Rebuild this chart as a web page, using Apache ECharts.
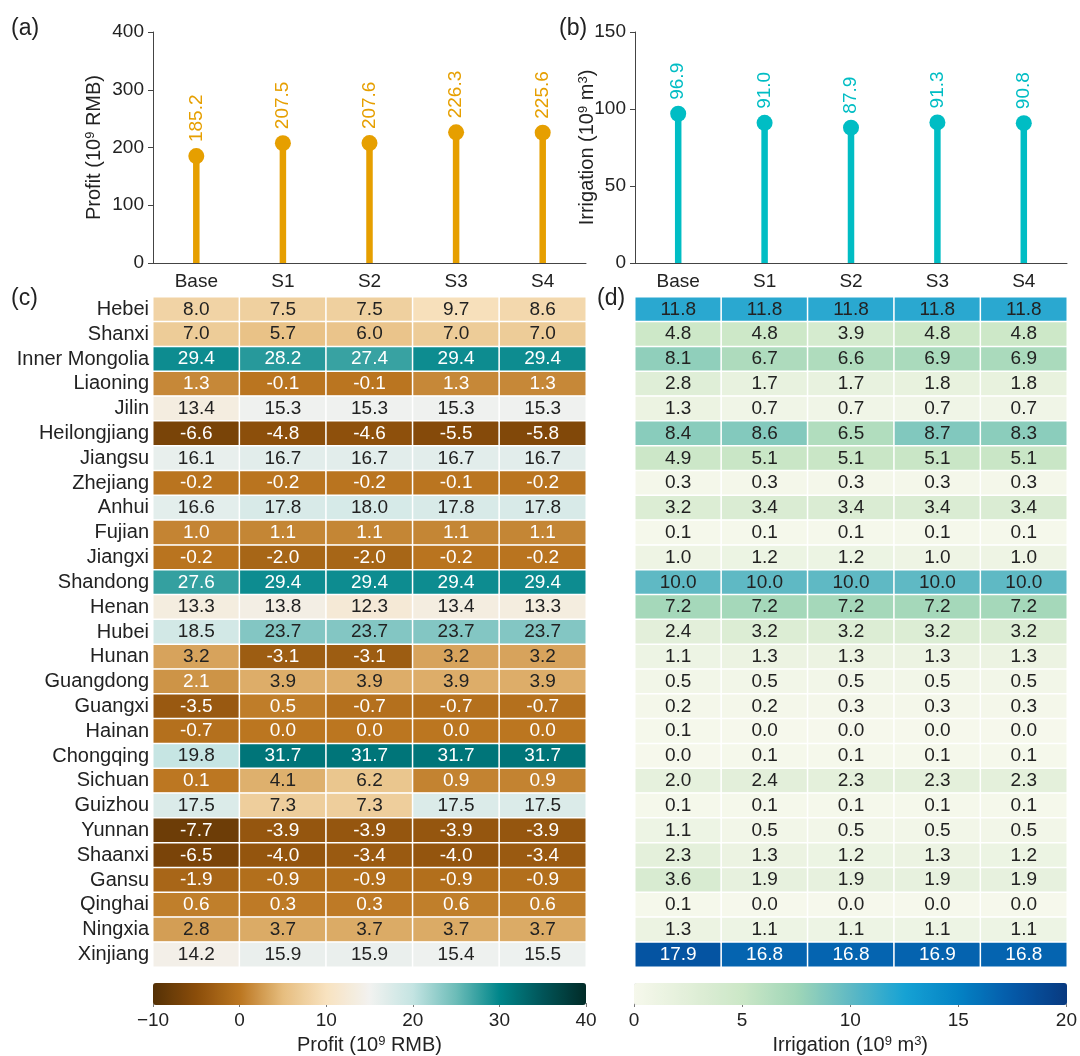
<!DOCTYPE html>
<html>
<head>
<meta charset="utf-8">
<title>Profit and irrigation by scenario</title>
<script src="https://cdn.jsdelivr.net/npm/echarts@6/dist/echarts.min.js"></script>
<style>
  html, body { margin: 0; padding: 0; background: #ffffff; }
  #chart { width: 1080px; height: 1056px; }
</style>
</head>
<body>
<div id="chart"></div>
<script>
// Scenarios and provinces
const scenarios = ['Base', 'S1', 'S2', 'S3', 'S4'];
const provinces = ['Hebei', 'Shanxi', 'Inner Mongolia', 'Liaoning', 'Jilin', 'Heilongjiang',
  'Jiangsu', 'Zhejiang', 'Anhui', 'Fujian', 'Jiangxi', 'Shandong', 'Henan', 'Hubei', 'Hunan',
  'Guangdong', 'Guangxi', 'Hainan', 'Chongqing', 'Sichuan', 'Guizhou', 'Yunnan', 'Shaanxi',
  'Gansu', 'Qinghai', 'Ningxia', 'Xinjiang'];

// National totals (10^9 RMB, 10^9 m3)
const totalProfit = [185.2, 207.5, 207.6, 226.3, 225.6];
const totalIrrigation = [96.9, 91.0, 87.9, 91.3, 90.8];

// Provincial profit (10^9 RMB), one array per scenario, in province order
const profitBase = [8.0, 7.0, 29.4, 1.3, 13.4, -6.6, 16.1, -0.2, 16.6, 1.0, -0.2, 27.6, 13.3, 18.5, 3.2, 2.1, -3.5, -0.7, 19.8, 0.1, 17.5, -7.7, -6.5, -1.9, 0.6, 2.8, 14.2];
const profitS1 = [7.5, 5.7, 28.2, -0.1, 15.3, -4.8, 16.7, -0.2, 17.8, 1.1, -2.0, 29.4, 13.8, 23.7, -3.1, 3.9, 0.5, 0.0, 31.7, 4.1, 7.3, -3.9, -4.0, -0.9, 0.3, 3.7, 15.9];
const profitS2 = [7.5, 6.0, 27.4, -0.1, 15.3, -4.6, 16.7, -0.2, 18.0, 1.1, -2.0, 29.4, 12.3, 23.7, -3.1, 3.9, -0.7, 0.0, 31.7, 6.2, 7.3, -3.9, -3.4, -0.9, 0.3, 3.7, 15.9];
const profitS3 = [9.7, 7.0, 29.4, 1.3, 15.3, -5.5, 16.7, -0.1, 17.8, 1.1, -0.2, 29.4, 13.4, 23.7, 3.2, 3.9, -0.7, 0.0, 31.7, 0.9, 17.5, -3.9, -4.0, -0.9, 0.6, 3.7, 15.4];
const profitS4 = [8.6, 7.0, 29.4, 1.3, 15.3, -5.8, 16.7, -0.2, 17.8, 1.1, -0.2, 29.4, 13.3, 23.7, 3.2, 3.9, -0.7, 0.0, 31.7, 0.9, 17.5, -3.9, -3.4, -0.9, 0.6, 3.7, 15.5];

// Provincial irrigation (10^9 m3), one array per scenario, in province order
const irrigationBase = [11.8, 4.8, 8.1, 2.8, 1.3, 8.4, 4.9, 0.3, 3.2, 0.1, 1.0, 10.0, 7.2, 2.4, 1.1, 0.5, 0.2, 0.1, 0.0, 2.0, 0.1, 1.1, 2.3, 3.6, 0.1, 1.3, 17.9];
const irrigationS1 = [11.8, 4.8, 6.7, 1.7, 0.7, 8.6, 5.1, 0.3, 3.4, 0.1, 1.2, 10.0, 7.2, 3.2, 1.3, 0.5, 0.2, 0.0, 0.1, 2.4, 0.1, 0.5, 1.3, 1.9, 0.0, 1.1, 16.8];
const irrigationS2 = [11.8, 3.9, 6.6, 1.7, 0.7, 6.5, 5.1, 0.3, 3.4, 0.1, 1.2, 10.0, 7.2, 3.2, 1.3, 0.5, 0.3, 0.0, 0.1, 2.3, 0.1, 0.5, 1.2, 1.9, 0.0, 1.1, 16.8];
const irrigationS3 = [11.8, 4.8, 6.9, 1.8, 0.7, 8.7, 5.1, 0.3, 3.4, 0.1, 1.0, 10.0, 7.2, 3.2, 1.3, 0.5, 0.3, 0.0, 0.1, 2.3, 0.1, 0.5, 1.3, 1.9, 0.0, 1.1, 16.9];
const irrigationS4 = [11.8, 4.8, 6.9, 1.8, 0.7, 8.3, 5.1, 0.3, 3.4, 0.1, 1.0, 10.0, 7.2, 3.2, 1.3, 0.5, 0.3, 0.0, 0.1, 2.3, 0.1, 0.5, 1.2, 1.9, 0.0, 1.1, 16.8];

// Colour-scale ticks
const profitTicks = [-10, 0, 10, 20, 30, 40];
const irrigationTicks = [0, 5, 10, 15, 20];

// ---- styling ----
const FONT = "'Liberation Sans', Arial, Helvetica, sans-serif";
const INK = '#222222';
const AXIS = '#444444';
const ORANGE = '#E69F00';
const CYAN = '#00BDC4';

// Diverging brown–teal ramp for profit, sequential green–blue ramp for irrigation
const profitColors = ['#543005', '#8a4d0a', '#bb7620', '#e6bd7e', '#f8e2bf', '#f2f2f0',
  '#c4e4e2', '#6cbcb8', '#00868a', '#015458', '#012b27'];
const irrigationColors = ['#f6f8ec', '#e2efd9', '#cbe7c7', '#a0d6b8', '#5fb9c4',
  '#16a2d4', '#0482c4', '#0559a8', '#083a80'];

const profitColumns = [profitBase, profitS1, profitS2, profitS3, profitS4];
const irrigationColumns = [irrigationBase, irrigationS1, irrigationS2, irrigationS3, irrigationS4];

function cells(columns, lightText) {
  const out = [];
  columns.forEach((col, i) => {
    col.forEach((v, j) => {
      out.push({ value: [i, j, v], label: { color: lightText(v) ? '#ffffff' : INK } });
    });
  });
  return out;
}
const profitCells = cells(profitColumns, v => v < 2.5 || v > 25);
const irrigationCells = cells(irrigationColumns, v => v > 14);

const fmtMinus = v => (v < 0 ? '\u2212' + Math.abs(v) : String(v));
const supRich = { sup: { fontSize: 13, verticalAlign: 'top', lineHeight: 13, fontFamily: FONT, color: INK } };

function lollipopAxes(gridIndex, max, interval, name, nameGap) {
  return {
    x: {
      type: 'category', gridIndex, data: scenarios, boundaryGap: true,
      axisLine: { lineStyle: { color: AXIS, width: 1 } },
      axisTick: { alignWithLabel: true, length: 5, lineStyle: { color: AXIS } },
      axisLabel: { interval: 0, color: INK, fontSize: 19, fontFamily: FONT, margin: 9 }
    },
    y: {
      type: 'value', gridIndex, min: 0, max, interval,
      name, nameLocation: 'middle', nameGap, nameRotate: 90, nameMoveOverlap: false,
      nameTextStyle: { color: INK, fontSize: 20, fontFamily: FONT, rich: supRich },
      axisLine: { show: true, lineStyle: { color: AXIS, width: 1 } },
      axisTick: { show: true, length: 5, lineStyle: { color: AXIS } },
      axisLabel: { color: INK, fontSize: 19, fontFamily: FONT, margin: 9 },
      splitLine: { show: false }
    }
  };
}
const axA = lollipopAxes(0, 400, 100, 'Profit (10{sup|9} RMB)', 49);
const axB = lollipopAxes(1, 150, 50, 'Irrigation (10{sup|9} m{sup|3})', 38);

function heatAxes(gridIndex, showNames) {
  return {
    x: { type: 'category', gridIndex, data: scenarios, show: false },
    y: {
      type: 'category', gridIndex, data: provinces, inverse: true,
      axisLine: { show: false }, axisTick: { show: false },
      axisLabel: { show: showNames, interval: 0, color: INK, fontSize: 20, fontFamily: FONT, margin: 4 }
    }
  };
}
const axC = heatAxes(2, true);
const axD = heatAxes(3, false);

function barAxes(gridIndex, ticks, name, fmt) {
  return {
    x: {
      type: 'value', gridIndex, min: ticks[0], max: ticks[ticks.length - 1],
      interval: ticks[1] - ticks[0], position: 'bottom',
      name, nameLocation: 'middle', nameGap: 32,
      nameTextStyle: { color: INK, fontSize: 20, fontFamily: FONT, rich: supRich },
      axisLine: { show: false },
      axisTick: { show: true, length: 4, lineStyle: { color: '#777' } },
      axisLabel: { color: INK, fontSize: 19, fontFamily: FONT, margin: 8, formatter: fmt },
      splitLine: { show: false }
    },
    y: { type: 'value', gridIndex, show: false, min: 0, max: 1 }
  };
}
const axE = barAxes(4, profitTicks, 'Profit (10{sup|9} RMB)', fmtMinus);
const axF = barAxes(5, irrigationTicks, 'Irrigation (10{sup|9} m{sup|3})', v => String(v));

function valueLabel(color) {
  return {
    show: true, position: 'top', distance: 6, rotate: 90, align: 'left', verticalAlign: 'middle',
    color, fontSize: 19, fontFamily: FONT, formatter: p => p.value.toFixed(1)
  };
}

const option = {
  backgroundColor: '#ffffff',
  animation: false,
  textStyle: { fontFamily: FONT },
  grid: [
    { left: 153, top: 32, width: 433, height: 231 },
    { left: 635, top: 32, width: 432, height: 231 },
    { left: 153, top: 297, width: 433, height: 670 },
    { left: 635, top: 297, width: 432, height: 670 },
    { left: 153, top: 983, width: 433, height: 22 },
    { left: 634, top: 983, width: 433, height: 22 }
  ],
  xAxis: [axA.x, axB.x, axC.x, axD.x, axE.x, axF.x],
  yAxis: [axA.y, axB.y, axC.y, axD.y, axE.y, axF.y],
  visualMap: [
    {
      type: 'continuous', seriesIndex: 4, dimension: 2, min: -10, max: 40,
      orient: 'horizontal', left: 153, top: 983, itemWidth: 22, itemHeight: 433,
      padding: 0, calculable: false, hoverLink: false, text: null, showLabel: false,
      inRange: { color: profitColors }
    },
    {
      type: 'continuous', seriesIndex: 5, dimension: 2, min: 0, max: 20,
      orient: 'horizontal', left: 634, top: 983, itemWidth: 22, itemHeight: 433,
      padding: 0, calculable: false, hoverLink: false, text: null, showLabel: false,
      inRange: { color: irrigationColors }
    }
  ],
  graphic: [
    { type: 'text', left: 11, top: 17, style: { text: '(a)', fontSize: 23, fontFamily: FONT, fill: INK } },
    { type: 'text', left: 559, top: 17, style: { text: '(b)', fontSize: 23, fontFamily: FONT, fill: INK } },
    { type: 'text', left: 11, top: 287, style: { text: '(c)', fontSize: 23, fontFamily: FONT, fill: INK } },
    { type: 'text', left: 597, top: 287, style: { text: '(d)', fontSize: 23, fontFamily: FONT, fill: INK } }
  ],
  series: [
    { type: 'bar', xAxisIndex: 0, yAxisIndex: 0, data: totalProfit, barWidth: 6.5,
      itemStyle: { color: ORANGE }, z: 2, silent: true },
    { type: 'scatter', xAxisIndex: 0, yAxisIndex: 0, data: totalProfit, symbolSize: 16,
      itemStyle: { color: ORANGE, opacity: 1 }, z: 3, label: valueLabel(ORANGE), silent: true },
    { type: 'bar', xAxisIndex: 1, yAxisIndex: 1, data: totalIrrigation, barWidth: 6.5,
      itemStyle: { color: CYAN }, z: 2, silent: true },
    { type: 'scatter', xAxisIndex: 1, yAxisIndex: 1, data: totalIrrigation, symbolSize: 16,
      itemStyle: { color: CYAN, opacity: 1 }, z: 3, label: valueLabel(CYAN), silent: true },
    { type: 'heatmap', xAxisIndex: 2, yAxisIndex: 2, data: profitCells,
      itemStyle: { borderColor: '#ffffff', borderWidth: 1.5 },
      label: { show: true, fontSize: 19, fontFamily: FONT, formatter: p => p.value[2].toFixed(1) },
      emphasis: { disabled: true }, silent: true },
    { type: 'heatmap', xAxisIndex: 3, yAxisIndex: 3, data: irrigationCells,
      itemStyle: { borderColor: '#ffffff', borderWidth: 1.5 },
      label: { show: true, fontSize: 19, fontFamily: FONT, formatter: p => p.value[2].toFixed(1) },
      emphasis: { disabled: true }, silent: true }
  ]
};

const chart = echarts.init(document.getElementById('chart'), null, { renderer: 'canvas' });
chart.setOption(option);
</script>
</body>
</html>
